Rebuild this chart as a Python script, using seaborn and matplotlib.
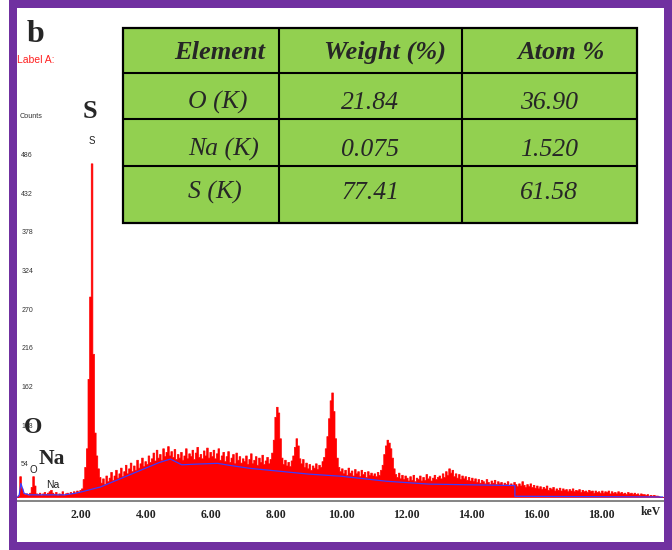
import os
import numpy as np
import pandas as pd
import matplotlib
matplotlib.use("Agg")
import matplotlib.pyplot as plt
import matplotlib.patheffects as pe
from matplotlib import font_manager
from matplotlib.patches import Rectangle
import seaborn as sns

# ---------------------------------------------------------------------------
# EDS spectrum: counts per 0.05 keV channel over 0-20 keV
# ---------------------------------------------------------------------------
channel_width = 0.05
counts = [
    # 0-1 keV (O K at 0.52)
    0, 2, 29, 12, 6, 4, 5, 3, 6, 14, 29, 16, 5, 4, 6, 3, 5, 7, 4, 6,
    # 1-2 keV (Na K at 1.04)
    8, 10, 6, 4, 7, 3, 5, 4, 8, 3, 5, 6, 4, 7, 5, 8, 6, 9, 7, 10,
    # 2-3 keV (S K at 2.31)
    12, 25, 42, 68, 165, 280, 466, 200, 90, 58, 40, 28, 20, 26, 18, 30, 22, 27, 35, 24,
    # 3-4 keV
    30, 38, 27, 33, 41, 29, 36, 45, 33, 40, 48, 36, 44, 38, 52, 41, 47, 55, 43, 50,
    # 4-5 keV
    46, 58, 49, 54, 62, 51, 66, 55, 60, 52, 68, 57, 63, 71, 58, 64, 56, 67, 53, 60,
    # 5-6 keV
    55, 63, 52, 58, 68, 54, 61, 57, 66, 53, 62, 70, 56, 60, 54, 65, 58, 69, 55, 63,
    # 6-7 keV
    57, 66, 54, 61, 68, 52, 58, 63, 50, 57, 64, 49, 55, 60, 47, 62, 52, 57, 48, 54,
    # 7-8 keV
    50, 58, 46, 53, 61, 47, 52, 57, 45, 55, 49, 59, 46, 51, 56, 47, 53, 62, 80, 112,
    # 8-9 keV
    126, 118, 82, 55, 46, 52, 44, 49, 43, 51, 58, 70, 82, 72, 54, 47, 53, 42, 48, 40,
    # 9-10 keV
    46, 38, 44, 41, 47, 39, 45, 42, 50, 56, 68, 85, 110, 135, 146, 120, 82, 55, 42, 36,
    # 10-11 keV
    40, 33, 38, 31, 41, 34, 37, 30, 39, 33, 36, 29, 38, 32, 35, 28, 36, 31, 34, 30,
    # 11-12 keV
    33, 29, 35, 31, 38, 45, 60, 72, 80, 76, 68, 55, 40, 32, 28, 34, 26, 31, 25, 30,
    # 12-13 keV
    27, 23, 29, 24, 31, 22, 27, 25, 30, 23, 28, 24, 32, 26, 29, 23, 27, 31, 25, 28,
    # 13-14 keV
    30, 26, 33, 28, 36, 31, 40, 34, 38, 29, 33, 27, 32, 25, 30, 26, 29, 24, 28, 23,
    # 14-15 keV
    27, 22, 26, 21, 25, 20, 24, 22, 19, 25, 21, 18, 23, 20, 24, 18, 22, 19, 21, 17,
    # 15-16 keV
    20, 18, 22, 17, 19, 16, 21, 18, 15, 19, 16, 22, 17, 14, 18, 15, 19, 14, 17, 13,
    # 16-17 keV
    16, 12, 15, 11, 14, 12, 16, 10, 13, 11, 14, 9, 12, 10, 13, 9, 12, 10, 11, 8,
    # 17-18 keV
    11, 9, 12, 8, 10, 9, 11, 7, 10, 8, 9, 7, 10, 8, 9, 6, 9, 7, 8, 6,
    # 18-19 keV
    9, 6, 8, 7, 9, 5, 8, 6, 7, 5, 8, 6, 7, 5, 6, 4, 7, 5, 6, 4,
    # 19-20 keV
    6, 4, 5, 3, 5, 4, 4, 3, 4, 2, 3, 2, 3, 2, 2, 1, 0, 0, 0, 0,
]

# fitted background (bremsstrahlung) line
bg_energy = [0.05, 0.10, 0.15, 0.25, 0.40, 1.50, 1.80, 2.00, 2.60, 3.50, 4.40,
             4.75, 5.10, 5.60, 6.20, 6.60, 7.20, 8.10, 9.00, 10.00, 11.40,
             12.70, 14.00, 15.35, 15.35, 19.90]
bg_counts = [0, 3, 19, 5, 3, 3, 5, 7, 14, 31, 48,
             53, 45, 46, 47, 44, 40, 36, 32, 29, 22,
             18, 17, 16, 1, 0]

energy_ticks = [2, 4, 6, 8, 10, 12, 14, 16, 18]
count_ticks = [54, 108, 162, 216, 270, 324, 378, 432, 486]

# quantification table
table_headers = ["Element", "Weight (%)", "Atom %"]
elements = ["O (K)", "Na (K)", "S (K)"]
weight_pct = ["21.84", "0.075", "77.41"]
atom_pct = ["36.90", "1.520", "61.58"]

# ---------------------------------------------------------------------------
sns.set_style("white")
SERIF = "Liberation Serif"
SANS = "Liberation Sans"
plt.rcParams["font.family"] = [SANS, "DejaVu Sans"]


def has_bold(family, style="normal"):
    """True when a real bold face of the family is installed."""
    try:
        path = font_manager.findfont(
            font_manager.FontProperties(family=family, weight="bold", style=style),
            fallback_to_default=False)
    except Exception:
        return False
    return "bold" in os.path.basename(path).lower()


def heavy(style="normal", width=0.6):
    """Extra stroke used only if the bold face is missing."""
    if has_bold(SERIF, style):
        return []
    return [pe.withStroke(linewidth=width, foreground="black")]


W, H = 672, 550
fig = plt.figure(figsize=(W / 100, H / 100), dpi=100)
fig.patch.set_facecolor("white")

ax = fig.add_axes([16 / W, 1 - 501 / H, 650 / W, 493 / H])
ax.set_facecolor("none")

n_channels = len(counts)
spectrum = pd.DataFrame({
    "energy": (np.arange(n_channels) + 0.5) * channel_width,
    "counts": np.asarray(counts, dtype=float),
})

sns.histplot(data=spectrum, x="energy", weights="counts",
             bins=n_channels, binrange=(0, n_channels * channel_width),
             element="step", fill=True, color="#ff0000", alpha=1.0,
             linewidth=0.5, ax=ax)
sns.lineplot(x=bg_energy, y=bg_counts, color="#3b3bff", linewidth=0.9,
             estimator=None, sort=False, ax=ax)

ax.set_xlim(0, 20)
ax.set_ylim(-5.6, 683)
ax.set_xlabel("")
ax.set_ylabel("")
for side in ("top", "right", "left"):
    ax.spines[side].set_visible(False)
ax.spines["bottom"].set_color("#707070")
ax.spines["bottom"].set_linewidth(1.2)

ax.set_xticks(energy_ticks, [f"{v:.2f}" for v in energy_ticks],
              fontfamily=SERIF, fontweight="bold", fontsize=8.5)
ax.tick_params(axis="x", direction="inout", length=5, width=0.8,
               color="#555555", pad=3, labelcolor="#222222")

ax.set_yticks(count_ticks)
ax.tick_params(axis="y", direction="in", length=15.5, width=0.8,
               color="#444444", labelleft=False)
for v in count_ticks:
    ax.text(0.16, v - 4, str(v), fontsize=5, color="#333333",
            ha="left", va="top", family=SANS)

# ---------------------------------------------------------------------------
# annotations, table and frame in pixel coordinates
ov = fig.add_axes([0, 0, 1, 1], zorder=5)
ov.set_xlim(0, W)
ov.set_ylim(H, 0)
ov.axis("off")

ov.text(27, 42, "b", fontsize=23, fontweight="bold", family=SERIF, va="baseline",
        path_effects=heavy(width=0.9))
ov.text(17, 63, "Label A:", fontsize=7.5, color="#ff2020", family=SANS, va="baseline")
ov.text(20, 118, "Counts", fontsize=5.2, color="#333333", family=SANS, va="baseline")
ov.text(651, 515, "keV", fontsize=8.5, fontweight="bold", family=SERIF,
        ha="center", va="baseline", color="#222222")

# peak labels: large bold and small spectrometer tags
ov.text(90, 118, "S", fontsize=19, fontweight="bold", family=SERIF,
        ha="center", va="baseline", path_effects=heavy(width=0.8))
ov.text(91.5, 144, "S", fontsize=7, family=SANS, ha="center", va="baseline", color="#222222")
ov.text(33, 433, "O", fontsize=17, fontweight="bold", family=SERIF,
        ha="center", va="baseline", path_effects=heavy(width=0.8))
ov.text(52, 464, "Na", fontsize=15.5, fontweight="bold", family=SERIF,
        ha="center", va="baseline", path_effects=heavy(width=0.8))
ov.text(33.5, 473, "O", fontsize=7, family=SANS, ha="center", va="baseline", color="#222222")
ov.text(52.5, 488, "Na", fontsize=7.5, family=SANS, ha="center", va="baseline", color="#222222")

# table
tx0, tx1 = 123, 637
ty0, ty1 = 28, 223
col_edges = [279, 462]
row_edges = [73, 119, 166]
ov.add_patch(Rectangle((tx0, ty0), tx1 - tx0, ty1 - ty0, facecolor="#92D050",
                       edgecolor="black", linewidth=1.6, zorder=2))
for xc in col_edges:
    ov.plot([xc, xc], [ty0, ty1], color="black", lw=1.5, zorder=3)
for yr in row_edges:
    ov.plot([tx0, tx1], [yr, yr], color="black", lw=1.5, zorder=3)

header_x = [220, 385, 561]
for x, label in zip(header_x, table_headers):
    ov.text(x, 59, label, fontsize=19, fontweight="bold", fontstyle="italic",
            family=SERIF, ha="center", va="baseline", zorder=4,
            path_effects=heavy("italic", width=0.7))

row_base = [109, 156, 199]
for yb, el, wt, at in zip(row_base, elements, weight_pct, atom_pct):
    ov.text(188, yb, el, fontsize=18.5, fontstyle="italic", family=SERIF,
            ha="left", va="baseline", zorder=4)
    ov.text(370, yb, wt, fontsize=18.5, fontstyle="italic", family=SERIF,
            ha="center", va="baseline", zorder=4)
    ov.text(549, yb, at, fontsize=18.5, fontstyle="italic", family=SERIF,
            ha="center", va="baseline", zorder=4)

# purple frame
ov.add_patch(Rectangle((13, 3.5), 655, 542, fill=False, linewidth=8 * 0.72,
                       edgecolor="#7030A0", zorder=6))

fig.savefig("out.png", dpi=100, facecolor="white")
